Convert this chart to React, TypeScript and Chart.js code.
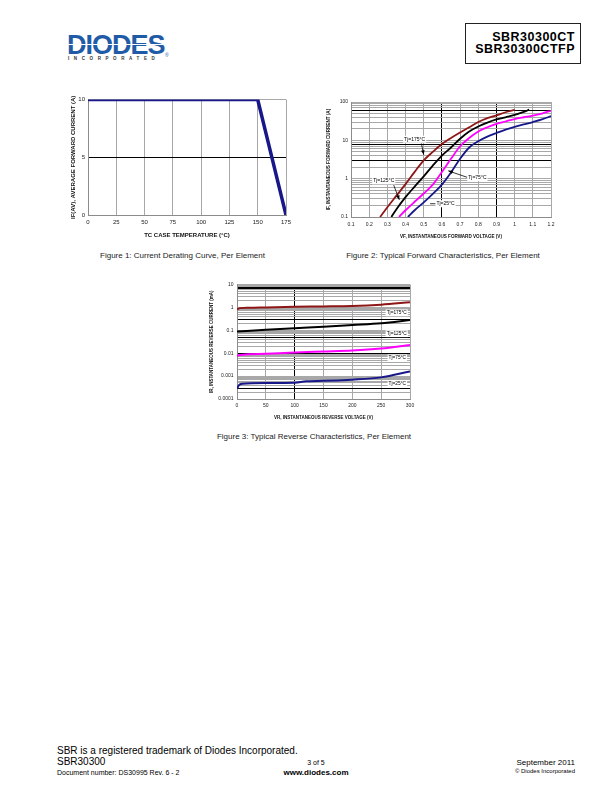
import React, { useEffect, useRef } from "react";
import { Chart, registerables } from "chart.js";

Chart.register(...registerables);

const FONT = "'Liberation Sans', Arial, Helvetica, sans-serif";
Chart.defaults.font.family = FONT;

// ---------- Figure 1: Current derating ----------
const fig1CaseTemp = [0, 150, 175];
const fig1AvgCurrent = [10, 10, 0];
const fig1XTicks = [0, 25, 50, 75, 100, 125, 150, 175];
const fig1XLabels = ["0", "25", "50", "75", "100", "125", "150", "175"];
const fig1YTicks = [0, 5, 10];
const fig1YLabels = ["0", "5", "10"];
const fig1DarkY = [5];

// ---------- Figure 2: Forward characteristics ----------
const fig2XTicks = [0.1, 0.2, 0.3, 0.4, 0.5, 0.6, 0.7, 0.8, 0.9, 1.0, 1.1, 1.2];
const fig2XLabels = ["0.1", "0.2", "0.3", "0.4", "0.5", "0.6", "0.7", "0.8", "0.9", "1", "1.1", "1.2"];
const fig2YMajor = [0.1, 1, 10, 100];
const fig2YLabels = ["0.1", "1", "10", "100"];
const fig2DarkY = [3, 8, 60];
const fig2DarkX = [0.6, 0.9];

const vf175 = [0.26, 0.3, 0.35, 0.4, 0.45, 0.5, 0.55, 0.6, 0.65, 0.7, 0.75, 0.8, 0.85, 0.9, 0.95, 1.0];
const if175 = [0.1, 0.18, 0.36, 0.72, 1.5, 3.0, 5.0, 8.0, 11.5, 16, 22, 30, 38, 45, 54, 62];
const vf125 = [0.322, 0.35, 0.4, 0.45, 0.5, 0.55, 0.6, 0.65, 0.7, 0.75, 0.8, 0.85, 0.9, 0.95, 1.0, 1.05, 1.08];
const if125 = [0.1, 0.16, 0.33, 0.62, 1.15, 2.2, 4.0, 6.5, 11, 17, 23, 29, 35, 40, 46, 55, 63];
const vf75 = [0.364, 0.4, 0.45, 0.5, 0.55, 0.6, 0.65, 0.7, 0.75, 0.8, 0.85, 0.9, 0.95, 1.0, 1.05, 1.1, 1.15, 1.2];
const if75 = [0.1, 0.15, 0.25, 0.41, 0.7, 1.5, 3.3, 7.0, 11.5, 17, 22, 27, 31, 36, 40, 44, 50, 59];
const vf25 = [0.413, 0.45, 0.5, 0.55, 0.6, 0.65, 0.7, 0.75, 0.8, 0.85, 0.9, 0.95, 1.0, 1.05, 1.1, 1.15, 1.2];
const if25 = [0.1, 0.15, 0.24, 0.4, 0.7, 1.45, 3.3, 6.5, 9.5, 12.5, 15.5, 19, 22.5, 26, 30, 35, 43];

const fig2Notes = [
  { text: "Tj=175°C", x: 0.45, y: 10.7, arrow: [0.487, 8.3, 0.5, 4.2], head: true },
  { text: "Tj=125°C", x: 0.28, y: 0.88, arrow: [0.335, 0.68, 0.366, 0.28], head: true },
  { text: "Tj=75°C", x: 0.795, y: 1.07, arrow: [0.74, 1.08, 0.635, 1.6], head: true },
  { text: "Tj=25°C", x: 0.62, y: 0.222, arrow: [0.577, 0.222, 0.535, 0.222], head: false },
];

// ---------- Figure 3: Reverse characteristics ----------
const fig3XTicks = [0, 50, 100, 150, 200, 250, 300];
const fig3XLabels = ["0", "50", "100", "150", "200", "250", "300"];
const fig3YMajor = [0.0001, 0.001, 0.01, 0.1, 1, 10];
const fig3YLabels = ["0.0001", "0.001", "0.01", "0.1", "1", "10"];
const fig3DarkY = [0.0003, 0.01, 0.05, 0.3, 7];
const fig3DarkX = [100];

const vr175 = [0, 5, 20, 50, 100, 150, 200, 250, 300];
const ir175 = [0.82, 0.93, 0.96, 1.0, 1.07, 1.1, 1.15, 1.32, 1.7];
const vr125 = [0, 50, 100, 150, 200, 250, 300];
const ir125 = [0.088, 0.105, 0.124, 0.142, 0.17, 0.205, 0.28];
const vr75 = [0, 10, 50, 100, 150, 200, 250, 300];
const ir75 = [0.0078, 0.0086, 0.0094, 0.0107, 0.0118, 0.013, 0.016, 0.023];
const vr25 = [0, 3, 10, 50, 100, 120, 150, 200, 250, 300];
const ir25 = [0.00028, 0.00039, 0.00046, 0.0005, 0.00051, 0.0006, 0.00062, 0.0007, 0.00088, 0.0016];

const fig3Notes = [
  { text: "Tj=175°C", x: 277, y: 0.58 },
  { text: "Tj=125°C", x: 277, y: 0.071 },
  { text: "Tj=75°C", x: 278, y: 0.0063 },
  { text: "Tj=25°C", x: 278, y: 0.00046 },
];

// ---------- helpers ----------
const same = (a: number, b: number) =>
  Math.abs(a - b) <= 1e-6 * Math.max(Math.abs(a), Math.abs(b), 1e-12);
const labelFor = (v: number, ticks: number[], labels: string[]) => {
  const i = ticks.findIndex((t) => same(t, v));
  return i >= 0 ? labels[i] : "";
};
const logGrid = (lo: number, hi: number) => {
  const out: number[] = [];
  const e0 = Math.round(Math.log10(lo));
  const e1 = Math.round(Math.log10(hi));
  for (let e = e0; e < e1; e++) {
    for (let m = 1; m < 10; m++) out.push(Number((m * Math.pow(10, e)).toPrecision(6)));
  }
  out.push(hi);
  return out;
};
const pts = (xs: number[], ys: number[]) => xs.map((x, i) => ({ x, y: ys[i] }));

const RED = "#8e1616";
const MAGENTA = "#ff00ff";
const NAVY = "#17178a";

function makeAxis(o: any) {
  return {
    type: o.type,
    position: o.position,
    min: o.min,
    max: o.max,
    afterBuildTicks: (s: any) => {
      s.ticks = o.grid.map((v: number) => ({ value: v }));
    },
    afterFit: (s: any) => {
      if (o.position === "left") s.width = o.fit;
      else s.height = o.fit;
    },
    grid: {
      drawTicks: false,
      color: (c: any) =>
        c.tick && o.dark.some((d: number) => same(d, c.tick.value)) ? "#000" : "#a8a8a8",
      lineWidth: (c: any) => (c.tick && o.thick != null && same(o.thick, c.tick.value) ? 2 : 1),
    },
    border: { display: true, color: "#8c8c8c", width: 1 },
    ticks: {
      autoSkip: false,
      maxRotation: 0,
      minRotation: 0,
      padding: o.tickPad,
      color: "#222",
      font: { size: o.tickSize, family: FONT },
      callback: (v: any) => labelFor(Number(v), o.labelTicks, o.labels),
    },
    title: {
      display: true,
      text: o.title,
      color: "#111",
      font: { size: o.titleSize, weight: "bold", family: FONT },
      padding: o.titlePad,
    },
  };
}

const notePlugin = {
  id: "tjNotes",
  afterDatasetsDraw(chart: any, _args: any, opts: any) {
    const items = (opts && opts.items) || [];
    const size = (opts && opts.size) || 5;
    const { ctx, scales } = chart;
    const xs = scales.x;
    const ys = scales.y;
    ctx.save();
    ctx.font = `${size}px ${FONT}`;
    for (const it of items) {
      if (it.arrow) {
        const [fx, fy, tx, ty] = it.arrow;
        const x1 = xs.getPixelForValue(fx);
        const y1 = ys.getPixelForValue(fy);
        const x2 = xs.getPixelForValue(tx);
        const y2 = ys.getPixelForValue(ty);
        ctx.strokeStyle = "#000";
        ctx.lineWidth = 0.8;
        ctx.beginPath();
        ctx.moveTo(x1, y1);
        ctx.lineTo(x2, y2);
        ctx.stroke();
        if (it.head) {
          const ang = Math.atan2(y2 - y1, x2 - x1);
          const L = 4.5;
          const W = 1.8;
          ctx.fillStyle = "#000";
          ctx.beginPath();
          ctx.moveTo(x2, y2);
          ctx.lineTo(x2 - L * Math.cos(ang) + W * Math.sin(ang), y2 - L * Math.sin(ang) - W * Math.cos(ang));
          ctx.lineTo(x2 - L * Math.cos(ang) - W * Math.sin(ang), y2 - L * Math.sin(ang) + W * Math.cos(ang));
          ctx.closePath();
          ctx.fill();
        }
      }
      const px = xs.getPixelForValue(it.x);
      const py = ys.getPixelForValue(it.y);
      const w = ctx.measureText(it.text).width;
      ctx.fillStyle = "#fff";
      ctx.fillRect(px - w / 2 - 1, py - size / 2 - 1, w + 2, size + 2);
      ctx.fillStyle = "#000";
      ctx.textAlign = "center";
      ctx.textBaseline = "middle";
      ctx.fillText(it.text, px, py);
    }
    ctx.restore();
  },
};

const baseOptions = (scales: any, notes: any[], noteSize: number) => ({
  responsive: false,
  animation: false,
  events: [],
  layout: { padding: { top: 6, right: 10, left: 0, bottom: 0 } },
  plugins: {
    legend: { display: false },
    tooltip: { enabled: false },
    tjNotes: { items: notes, size: noteSize },
  },
  elements: { point: { radius: 0 } },
  scales,
});

const line = (data: any[], color: string, width: number, smooth = true) => ({
  data,
  borderColor: color,
  borderWidth: width,
  pointRadius: 0,
  fill: false,
  tension: smooth ? 0.4 : 0,
  cubicInterpolationMode: smooth ? "monotone" : "default",
});

function fig1Config() {
  return {
    type: "line",
    data: { datasets: [line(pts(fig1CaseTemp, fig1AvgCurrent), NAVY, 3.5, false)] },
    options: baseOptions(
      {
        x: makeAxis({
          type: "linear", position: "bottom", min: 0, max: 175, grid: fig1XTicks, dark: [],
          fit: 24, tickPad: 4, tickSize: 6, labelTicks: fig1XTicks, labels: fig1XLabels,
          title: "TC CASE TEMPERATURE (°C)", titleSize: 6, titlePad: { top: 0, bottom: 0 },
        }),
        y: makeAxis({
          type: "linear", position: "left", min: 0, max: 10, grid: fig1YTicks, dark: fig1DarkY,
          fit: 22, tickPad: 3, tickSize: 6, labelTicks: fig1YTicks, labels: fig1YLabels,
          title: "IF(AV), AVERAGE FORWARD CURRENT (A)", titleSize: 6, titlePad: { top: 3.7, bottom: 0 },
        }),
      },
      [],
      5
    ),
    plugins: [notePlugin],
  };
}

function fig2Config() {
  return {
    type: "line",
    data: {
      datasets: [
        line(pts(vf175, if175), RED, 1.8),
        line(pts(vf125, if125), "#000", 1.8),
        line(pts(vf75, if75), MAGENTA, 1.8),
        line(pts(vf25, if25), NAVY, 1.8),
      ],
    },
    options: baseOptions(
      {
        x: makeAxis({
          type: "linear", position: "bottom", min: 0.1, max: 1.2, grid: fig2XTicks, dark: fig2DarkX,
          fit: 22, tickPad: 4.7, tickSize: 5, labelTicks: fig2XTicks, labels: fig2XLabels,
          title: "VF, INSTANTANEOUS FORWARD VOLTAGE (V)", titleSize: 4.6, titlePad: { top: 0, bottom: 0 },
        }),
        y: makeAxis({
          type: "logarithmic", position: "left", min: 0.1, max: 100, grid: logGrid(0.1, 100), dark: fig2DarkY,
          fit: 27, tickPad: 3, tickSize: 5, labelTicks: fig2YMajor, labels: fig2YLabels,
          title: "IF, INSTANTANEOUS FORWARD CURRENT (A)", titleSize: 4.6, titlePad: { top: 1.5, bottom: 0 },
        }),
      },
      fig2Notes,
      5
    ),
    plugins: [notePlugin],
  };
}

function fig3Config() {
  return {
    type: "line",
    data: {
      datasets: [
        line(pts(vr175, ir175), RED, 2),
        line(pts(vr125, ir125), "#000", 2),
        line(pts(vr75, ir75), MAGENTA, 2),
        line(pts(vr25, ir25), NAVY, 2),
      ],
    },
    options: baseOptions(
      {
        x: makeAxis({
          type: "linear", position: "bottom", min: 0, max: 300, grid: fig3XTicks, dark: fig3DarkX,
          fit: 21, tickPad: 3.7, tickSize: 5, labelTicks: fig3XTicks, labels: fig3XLabels,
          title: "VR, INSTANTANEOUS REVERSE VOLTAGE (V)", titleSize: 4.5, titlePad: { top: 0, bottom: 0 },
        }),
        y: makeAxis({
          type: "logarithmic", position: "left", min: 0.0001, max: 10, grid: logGrid(0.0001, 10), dark: fig3DarkY,
          thick: 7,
          fit: 30, tickPad: 3.5, tickSize: 5, labelTicks: fig3YMajor, labels: fig3YLabels,
          title: "IR, INSTANTANEOUS REVERSE CURRENT (mA)", titleSize: 4.5, titlePad: { top: 2, bottom: 0 },
        }),
      },
      fig3Notes,
      4.8
    ),
    plugins: [notePlugin],
  };
}

function ChartCanvas(props: { left: number; top: number; width: number; height: number; make: () => any }) {
  const ref = useRef<HTMLCanvasElement | null>(null);
  useEffect(() => {
    if (!ref.current) return;
    const chart = new Chart(ref.current, props.make());
    return () => chart.destroy();
  }, []);
  return (
    <canvas
      ref={ref}
      width={props.width}
      height={props.height}
      style={{ position: "absolute", left: props.left, top: props.top, width: props.width, height: props.height }}
    />
  );
}

function Text(props: {
  x: number; y: number; size: number; text: string; align?: "left" | "center" | "right";
  bold?: boolean; color?: string; spacing?: number;
}) {
  const align = props.align || "left";
  const w = 400;
  const left = align === "left" ? props.x : align === "center" ? props.x - w / 2 : props.x - w;
  return (
    <div
      style={{
        position: "absolute",
        left,
        top: props.y - props.size * 0.6,
        width: w,
        textAlign: align,
        fontSize: props.size,
        lineHeight: `${props.size * 1.2}px`,
        fontWeight: props.bold ? "bold" : "normal",
        color: props.color || "#000",
        whiteSpace: "nowrap",
        letterSpacing: props.spacing ? `${props.spacing}px` : undefined,
        fontFamily: FONT,
      }}
    >
      {props.text}
    </div>
  );
}

export default function App() {
  return (
    <div
      style={{
        position: "absolute",
        left: 0,
        top: 0,
        width: 612,
        height: 792,
        background: "#fff",
        fontFamily: FONT,
        overflow: "hidden",
      }}
    >
      {/* Logo */}
      <div
        style={{
          position: "absolute",
          left: 67,
          top: 31.5,
          fontSize: 27,
          lineHeight: "27px",
          fontWeight: "bold",
          color: "#1f5ba6",
          letterSpacing: "-1px",
          fontFamily: FONT,
          whiteSpace: "nowrap",
        }}
      >
        DIODES
      </div>
      <div style={{ position: "absolute", left: 67, top: 44, width: 96, height: 1.2, background: "#fff" }} />
      <div
        style={{
          position: "absolute",
          left: 68,
          top: 56,
          fontSize: 4.5,
          lineHeight: "5px",
          fontWeight: "bold",
          color: "#333",
          letterSpacing: "4.6px",
          whiteSpace: "nowrap",
          fontFamily: FONT,
        }}
      >
        INCORPORATED
      </div>
      <div style={{ position: "absolute", left: 165, top: 52.5, fontSize: 5, lineHeight: "5px", color: "#1f5ba6" }}>®</div>

      {/* Part number box */}
      <div
        style={{
          position: "absolute",
          left: 465,
          top: 23,
          width: 114,
          height: 39,
          border: "1px solid #222",
        }}
      />
      <Text x={575} y={37} size={12.5} text="SBR30300CT" align="right" bold spacing={0.5} />
      <Text x={575} y={49.5} size={12.5} text="SBR30300CTFP" align="right" bold spacing={0.5} />

      {/* Charts */}
      <ChartCanvas left={66} top={93} width={230} height={146} make={fig1Config} />
      <ChartCanvas left={324} top={96} width={237} height={143} make={fig2Config} />
      <ChartCanvas left={207} top={278} width={213} height={142} make={fig3Config} />

      {/* Captions */}
      <Text x={182.5} y={256} size={8} text="Figure 1: Current Derating Curve, Per Element" align="center" color="#222" />
      <Text x={443} y={256} size={8} text="Figure 2: Typical Forward Characteristics, Per Element" align="center" color="#222" />
      <Text x={314} y={437} size={8} text="Figure 3: Typical Reverse Characteristics, Per Element" align="center" color="#222" />

      {/* Footer */}
      <Text x={57} y={751} size={10} text="SBR is a registered trademark of Diodes Incorporated." />
      <Text x={57} y={762} size={10} text="SBR30300" />
      <Text x={57} y={773} size={7} text="Document number: DS30995 Rev. 6 - 2" />
      <Text x={316} y={763} size={7} text="3 of 5" align="center" />
      <Text x={316} y={772.5} size={8} text="www.diodes.com" align="center" bold />
      <Text x={575} y={763} size={8} text="September 2011" align="right" />
      <Text x={575} y={772} size={6} text="© Diodes Incorporated" align="right" />
    </div>
  );
}
